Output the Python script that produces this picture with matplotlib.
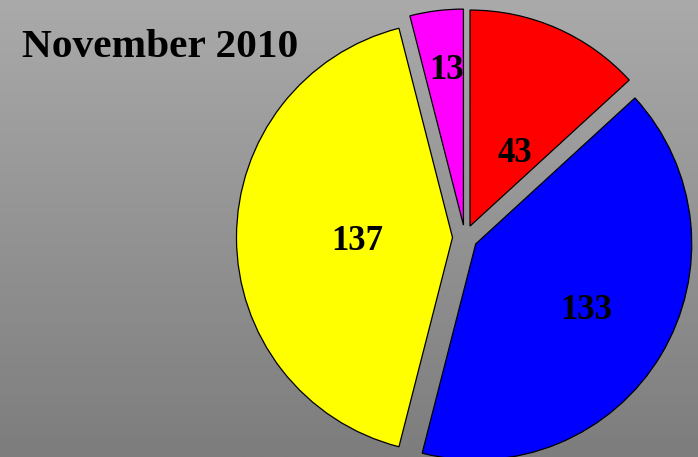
import numpy as np
import matplotlib
matplotlib.use("Agg")
import matplotlib.pyplot as plt

title = "November 2010"
values = [43, 133, 137, 13]
colors = ["#ff0000", "#0000ff", "#ffff00", "#ff00ff"]

W, H = 698, 457
fig = plt.figure(figsize=(W / 100, H / 100), dpi=100)
ax = fig.add_axes([0, 0, 1, 1])

# gradient background
grad = np.linspace(0, 1, 256).reshape(-1, 1)
top, bot = 0xaa / 255, 0x7d / 255
img = top + (bot - top) * grad
ax.imshow(np.dstack([img, img, img]), extent=[0, W, 0, H], aspect="auto", zorder=0)

cx, cy = 465, H - 237.5
radius = 216
explode_px = 12.5
explode = [explode_px] * len(values)

wedges, _ = ax.pie(values, colors=colors, startangle=90, counterclock=False,
                   center=(cx, cy), radius=radius, explode=explode,
                   wedgeprops=dict(edgecolor="black", linewidth=0.9), frame=True)

label_r = [0.41, 0.59, 0.44, 0.74]
label_dang = [-7, 1.5, 0, -1]
for w, v, r, da in zip(wedges, values, label_r, label_dang):
    mid = np.deg2rad((w.theta1 + w.theta2) / 2)
    ox = cx + explode_px * np.cos(mid)
    oy = cy + explode_px * np.sin(mid)
    a = mid + np.deg2rad(da)
    ax.text(ox + r * radius * np.cos(a), oy + r * radius * np.sin(a), str(v),
            ha="center", va="center_baseline", fontsize=25, fontweight="bold",
            family="Liberation Serif", color="black", zorder=5)

ax.text(22, H - 57, title, ha="left", va="baseline", fontsize=29.8,
        fontweight="bold", family="Liberation Serif", color="black", zorder=5)

ax.set_xlim(0, W)
ax.set_ylim(0, H)
ax.set_aspect("equal")
ax.axis("off")
fig.savefig("out.png", dpi=100)
